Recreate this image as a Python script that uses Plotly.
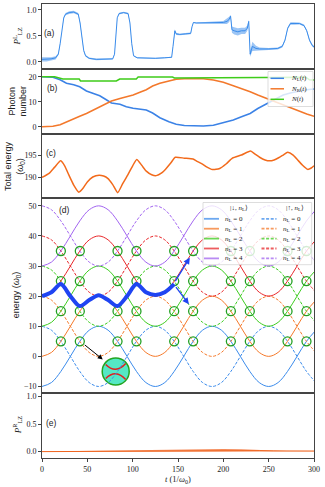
import plotly.graph_objects as go
from plotly.subplots import make_subplots

# ---------------- data ----------------
# (a) left Landau-Zener probability
t_a = [0, 5, 10, 15, 18, 20, 22, 24, 26, 30, 35, 40, 42, 44, 46, 48, 52, 60, 70, 78,
       80, 81.5, 83, 85, 90, 95, 97, 99, 101, 105, 115, 125, 135, 143, 144.5, 145.5, 146.5, 148, 152, 158,
       164, 165.5, 167, 170, 180, 190, 200, 204, 206.5, 208, 209.5, 212, 216, 220, 224, 226.5, 228, 229.6, 232, 236,
       240, 250, 260, 265, 268, 271, 274, 278, 284, 289, 292, 295, 298, 300]
P_a = [0.05, 0.05, 0.06, 0.08, 0.15, 0.35, 0.65, 0.85, 0.92, 0.95, 0.96, 0.92, 0.75, 0.45, 0.22, 0.12, 0.07, 0.05, 0.05, 0.06,
       0.15, 0.5, 0.85, 0.93, 0.95, 0.93, 0.75, 0.35, 0.12, 0.08, 0.07, 0.07, 0.08, 0.09, 0.3, 0.55, 0.6, 0.54, 0.53, 0.54,
       0.55, 0.68, 0.76, 0.75, 0.75, 0.76, 0.76, 0.78, 0.82, 0.88, 0.62, 0.6, 0.58, 0.6, 0.6, 0.65, 0.78, 0.15, 0.3, 0.26,
       0.25, 0.25, 0.26, 0.3, 0.42, 0.65, 0.74, 0.74, 0.74, 0.7, 0.6, 0.42, 0.32, 0.29]
P_a_spread = [0.04, 0.04, 0.03, 0.03, 0.02, 0.02, 0.02, 0.02, 0.02, 0.025, 0.025, 0.02, 0.02, 0.02, 0.02, 0.02, 0.015, 0.015, 0.01, 0.01,
              0.01, 0.01, 0.01, 0.015, 0.015, 0.015, 0.01, 0.01, 0.01, 0.01, 0.01, 0.01, 0.01, 0.01, 0.01, 0.03, 0.03, 0.02, 0.015, 0.015,
              0.015, 0.01, 0.01, 0.01, 0.015, 0.02, 0.03, 0.05, 0.05, 0.03, 0.06, 0.07, 0.07, 0.06, 0.06, 0.05, 0.03, 0.05, 0.09, 0.05,
              0.03, 0.02, 0.02, 0.02, 0.02, 0.02, 0.025, 0.025, 0.02, 0.02, 0.02, 0.02, 0.02, 0.02]

# (b) photon numbers
t_b = [0, 12, 20, 27, 35, 41.6, 49, 56, 63.7, 70, 76.6, 86, 93, 100.5, 108, 115, 122, 130, 140, 148,
       157, 166.6, 178, 189, 200, 211, 220, 229.6, 238, 248, 257, 266, 275, 284.4, 292, 300]
N_L = [20, 19.8, 18.8, 17.4, 16.8, 16, 14.3, 13.4, 12.4, 11, 9.5, 9, 8, 7.4, 7, 6.7, 5.5, 3.6, 2, 1,
       0.5, 0.3, 0.3, 0.6, 1.5, 2.7, 4, 5.3, 7.3, 9.3, 11, 12.7, 13.6, 14.4, 14.8, 15.1]
N_R = [0, 0.2, 0.8, 2, 3.3, 4.2, 5.3, 6.6, 8, 9.2, 10.3, 11.3, 12, 12.7, 13.8, 14.8, 16.3, 17.4, 18.3, 19,
       19.2, 19.3, 19.2, 18.7, 17.8, 16.4, 15.3, 14, 12.7, 11.3, 10, 8.7, 7.3, 6, 5.1, 4.2]
t_N = [0, 14, 23, 41, 42.5, 82, 85.7, 104, 106, 144, 146, 210, 212, 291, 295, 300]
N_tot = [20, 20, 19.1, 19.1, 18.3, 18.3, 19.1, 19.1, 19.9, 19.9, 19.5, 19.5, 19.8, 19.8, 18.8, 18.7]

# (c) total energy
t_c = [0, 7.8, 14, 20.5, 25, 29.7, 35, 40.7, 45, 50, 56, 63, 68, 72.5, 78, 83.5, 89, 94.5, 100, 104.5,
       110, 115, 121, 126, 132, 137, 142, 147, 157, 166.6, 171, 176, 182, 187, 192, 196, 203, 210, 220, 230,
       235, 240, 246, 251, 256, 261, 266, 271, 277, 282, 287, 293, 297, 300]
E_tot = [190.0, 190.9, 192.3, 193.7, 192.6, 190.5, 188.3, 186.7, 187.5, 189.0, 190.1, 190.5, 190.3, 189.8, 188.4, 186.6, 188.6, 190.5, 192.6, 194.0,
         192.7, 191.4, 190.6, 190.4, 191.0, 192.0, 193.2, 194.5, 194.3, 194.1, 193.6, 193.1, 192.3, 191.8, 191.8, 192.0, 193.0, 194.3, 195.0, 195.9,
         195.2, 194.5, 193.9, 193.7, 193.9, 194.4, 195.0, 195.6, 195.0, 193.9, 192.8, 191.8, 192.1, 192.6]

# (d) diabatic energy levels: level offset per n_L plus a swing
t_d = [0, 10.4, 20.8, 31.3, 41.7, 52.1, 62.5, 72.9, 83.3, 93.8, 104.2, 114.6, 125, 135.4, 145.8,
       156.3, 166.7, 177.1, 187.5, 197.9, 208.3, 218.8, 229.2, 239.6, 250, 260.4, 270.8, 281.3, 291.7, 302.1]
swing = [10, 8.7, 5, 0, -5, -8.7, -10, -8.7, -5, 0, 5, 8.7, 10, 8.7, 5,
         0, -5, -8.7, -10, -8.7, -5, 0, 5, 8.7, 10, 8.7, 5, 0, -5, -8.7]
n_levels = [0, 1, 2, 3, 4]
level_offset = [0, 10, 20, 30, 40]
level_colors = ["#3b8beb", "#f5792a", "#3ccc1e", "#e8272a", "#a265f0"]
t_path = [0, 10.4, 20.8, 31.3, 41.7, 52.1, 62.5, 72.9, 83.3, 93.8, 104.2, 114.6, 125, 135.4, 145.8]
E_path = [20, 21.3, 24, 20, 16.7, 18.7, 20.3, 18.7, 16.7, 20, 24, 21.3, 20.4, 21.3, 24]
cross_t = [20.8, 41.7, 83.3, 104.2, 145.8, 166.7, 208.3, 229.2, 270.8, 291.7]
cross_E = [5, 15, 25, 35]

# (e) right Landau-Zener probability
t_e = [0, 20, 50, 80, 100, 130, 150, 175, 200, 220, 240, 255, 262, 270, 300]
P_e = [0.001, 0.003, 0.008, 0.012, 0.015, 0.02, 0.022, 0.025, 0.025, 0.022, 0.018, 0.014, 0.012, 0.012, 0.012]
P_e_spread = [0.001, 0.003, 0.006, 0.01, 0.013, 0.018, 0.02, 0.022, 0.022, 0.02, 0.015, 0.01, 0.004, 0.002, 0.002]

x_ticks = [0, 50, 100, 150, 200, 250, 300]

# ---------------- layout helpers ----------------
W, H = 325, 487
ML, MR, MT, MB = 42, 11, 4, 29
PW = W - ML - MR
PH = H - MT - MB
panels = [(4, 69), (69, 134), (134, 198), (198, 392.5), (392.5, 458)]


def dom(top, bot):
    return [(H - MB - bot) / PH, (H - MB - top) / PH]


def px(x):
    return (x - ML) / PW


def py(y):
    return (H - MB - y) / PH


SERIF = "Liberation Serif"
SANS = "Liberation Sans"
FRAME = "#444444"

fig = make_subplots(rows=5, cols=1, shared_xaxes=True, vertical_spacing=0)

# ---- (a)
blue_a = "#3a8ceb"
fig.add_trace(go.Scatter(x=t_a, y=[p - s for p, s in zip(P_a, P_a_spread)], mode="lines",
                         line=dict(width=0, color=blue_a), hoverinfo="skip"), row=1, col=1)
fig.add_trace(go.Scatter(x=t_a, y=[p + s for p, s in zip(P_a, P_a_spread)], mode="lines",
                         line=dict(width=0, color=blue_a), fill="tonexty",
                         fillcolor="rgba(58,140,235,0.5)", hoverinfo="skip"), row=1, col=1)
fig.add_trace(go.Scatter(x=t_a, y=P_a, mode="lines", line=dict(width=1, color=blue_a)), row=1, col=1)

# ---- (b)
fig.add_trace(go.Scatter(x=t_b, y=N_L, mode="lines", line=dict(width=1.5, color="#3b82e6")), row=2, col=1)
fig.add_trace(go.Scatter(x=t_b, y=N_R, mode="lines", line=dict(width=1.5, color="#f3782b")), row=2, col=1)
fig.add_trace(go.Scatter(x=t_N, y=N_tot, mode="lines", line=dict(width=1.5, color="#3fcc1a")), row=2, col=1)

# ---- (c)
fig.add_trace(go.Scatter(x=t_c, y=E_tot, mode="lines",
                         line=dict(width=1.5, color="#f26a1b", shape="spline", smoothing=0.5)), row=3, col=1)

# ---- (d)
for n, off, c in zip(n_levels, level_offset, level_colors):
    fig.add_trace(go.Scatter(x=t_d, y=[off - s for s in swing], mode="lines", name=f"down {n}",
                             line=dict(width=1, color=c, shape="spline", smoothing=1)), row=4, col=1)
    fig.add_trace(go.Scatter(x=t_d, y=[off + s for s in swing], mode="lines", name=f"up {n}",
                             line=dict(width=1, color=c, dash="3px,1.6px", shape="spline", smoothing=1)), row=4, col=1)
cx = [t for e in cross_E for t in cross_t]
cy = [e for e in cross_E for t in cross_t]
fig.add_trace(go.Scatter(x=cx, y=cy, mode="markers",
                         marker=dict(symbol="circle-open", size=9, color="#22a022", line=dict(width=1.3))),
              row=4, col=1)
fig.add_trace(go.Scatter(x=t_path, y=E_path, mode="lines",
                         line=dict(width=4, color="#1f44f2", shape="spline", smoothing=0.8)), row=4, col=1)

# ---- (e)
orange_e = "#f0641e"
fig.add_trace(go.Scatter(x=t_e, y=[p - s for p, s in zip(P_e, P_e_spread)], mode="lines",
                         line=dict(width=0, color=orange_e), hoverinfo="skip"), row=5, col=1)
fig.add_trace(go.Scatter(x=t_e, y=[p + s for p, s in zip(P_e, P_e_spread)], mode="lines",
                         line=dict(width=0, color=orange_e), fill="tonexty",
                         fillcolor="rgba(240,90,20,0.7)", hoverinfo="skip"), row=5, col=1)
fig.add_trace(go.Scatter(x=t_e, y=P_e, mode="lines", line=dict(width=1, color=orange_e)), row=5, col=1)

# ---------------- axes ----------------
yranges = [[-0.135, 1.115], [-2.9, 23.1], [185.4, 199.7], [-12, 52.6], [-0.115, 1.076]]
yticks = [[0, 0.5, 1.0], [0, 10, 20], [190, 195], [-10, 0, 10, 20, 30, 40, 50], [0, 0.5, 1.0]]
yfmt = [".1f", "d", "d", "d", ".1f"]
for i in range(5):
    sfx = "" if i == 0 else str(i + 1)
    fig.layout["yaxis" + sfx].update(
        domain=dom(*panels[i]), range=yranges[i], tickvals=yticks[i], tickformat=yfmt[i],
        ticks="outside", ticklen=3, tickwidth=1, tickcolor=FRAME,
        showline=True, mirror=True, linecolor=FRAME, linewidth=1,
        showgrid=False, zeroline=False,
        tickfont=dict(family=SERIF, size=8, color="#222"))
    fig.layout["xaxis" + sfx].update(
        range=[0, 300], showline=True, mirror=True, linecolor=FRAME, linewidth=1,
        showgrid=False, zeroline=False,
        ticks="outside" if i == 4 else "", ticklen=3, tickcolor=FRAME,
        tickvals=x_ticks, showticklabels=(i == 4),
        tickfont=dict(family=SERIF, size=8, color="#222"))

fig.update_layout(width=W, height=H, margin=dict(l=ML, r=MR, t=MT, b=MB),
                  paper_bgcolor="white", plot_bgcolor="rgba(0,0,0,0)", showlegend=False)

ann = []
shapes = []

# axis titles
ytitles = [
    ("<i>P</i><sup>L</sup><sub>LZ</sub>", SERIF, 9, -25),
    ("Photon<br>number", SANS, 9, -25),
    ("Total energy<br>(<i>ω</i><sub>0</sub>)", SANS, 9, -28),
    ("energy (<i>ω</i><sub>0</sub>)", SANS, 9, -26),
    ("<i>P</i><sup>R</sup><sub>LZ</sub>", SERIF, 9, -25),
]
for i, (txt, fam, sz, shift) in enumerate(ytitles):
    sfx = "" if i == 0 else str(i + 1)
    ann.append(dict(text=txt, xref="x" + sfx + " domain", yref="y" + sfx + " domain", x=0, y=0.5,
                    xshift=shift, textangle=-90, showarrow=False, xanchor="center", yanchor="middle",
                    font=dict(family=fam, size=sz, color="#222")))
ann.append(dict(text="<i>t</i> (1/<i>ω</i><sub>0</sub>)", xref="paper", yref="paper",
                x=px(178), y=py(480), xanchor="center", yanchor="middle", showarrow=False,
                font=dict(family=SERIF, size=8.5, color="#222")))

# panel labels
labels = [("(a)", 8.5, 0.55), ("(b)", 11.8, 15.6), ("(c)", 10.4, 195.4), ("(d)", 25, 48.6), ("(e)", 10.4, 0.53)]
for i, (txt, x, y) in enumerate(labels):
    sfx = "" if i == 0 else str(i + 1)
    ann.append(dict(text=txt, xref="x" + sfx, yref="y" + sfx, x=x, y=y, showarrow=False,
                    xanchor="center", yanchor="middle",
                    font=dict(family=SANS, size=8.5, color="#222")))

# arrows in (d)
ann.append(dict(x=67, y=-1, ax=45.5, ay=4.2, xref="x4", yref="y4", axref="x4", ayref="y4", text="",
                showarrow=True, arrowhead=2, arrowsize=1, arrowwidth=1, arrowcolor="black"))
ann.append(dict(x=163, y=32.8, ax=146, ay=24.5, xref="x4", yref="y4", axref="x4", ayref="y4", text="",
                showarrow=True, arrowhead=2, arrowsize=1, arrowwidth=1.3, arrowcolor="#1f44f2"))
ann.append(dict(x=162, y=17.3, ax=146.5, ay=23.5, xref="x4", yref="y4", axref="x4", ayref="y4", text="",
                showarrow=True, arrowhead=2, arrowsize=1, arrowwidth=1.3, arrowcolor="#1f44f2"))

# inset (zoomed avoided crossing)
shapes.append(dict(type="circle", xref="x4", yref="y4", xsizemode="pixel", ysizemode="pixel",
                   xanchor=81.3, yanchor=-5, x0=-13.5, x1=13.5, y0=-13.5, y1=13.5,
                   fillcolor="#55e8c5", line=dict(color="#23a523", width=1.5), layer="below"))
shapes.append(dict(type="path", xref="x4", yref="y4", xsizemode="pixel", ysizemode="pixel",
                   xanchor=81.3, yanchor=-5, path="M -10,7 Q 0,-3 10,8",
                   line=dict(color="#e02020", width=1.5), layer="below"))
shapes.append(dict(type="path", xref="x4", yref="y4", xsizemode="pixel", ysizemode="pixel",
                   xanchor=81.3, yanchor=-5, path="M -10,-7 Q 0,3 10,-8",
                   line=dict(color="#e02020", width=1.5), layer="below"))

# legend of (b)
shapes.append(dict(type="rect", xref="paper", yref="paper", x0=px(268), x1=px(313), y0=py(106.5), y1=py(71.5),
                   fillcolor="rgba(255,255,255,0.8)", line=dict(color="#d4d4d4", width=0.8), layer="above"))
b_items = [("<i>N</i><sub>L</sub>(<i>t</i>)", "#3b82e6"), ("<i>N</i><sub>R</sub>(<i>t</i>)", "#f3782b"),
           ("<i>N</i>(<i>t</i>)", "#3fcc1a")]
for k, (txt, c) in enumerate(b_items):
    yy = 78.3 + 10.5 * k
    shapes.append(dict(type="line", xref="paper", yref="paper", x0=px(270.5), x1=px(284), y0=py(yy), y1=py(yy),
                       line=dict(color=c, width=1.5), layer="above"))
    ann.append(dict(text=txt, xref="paper", yref="paper", x=px(288.5), y=py(yy), xanchor="left",
                    yanchor="middle", showarrow=False, font=dict(family=SERIF, size=7, color="#222")))

# legend of (d)
shapes.append(dict(type="rect", xref="paper", yref="paper", x0=px(203), x1=px(311.7), y0=py(264.7), y1=py(202.5),
                   fillcolor="rgba(255,255,255,0.8)", line=dict(color="#d4d4d4", width=0.8), layer="above"))
ann.append(dict(text="|↓, <i>n</i><sub>L</sub>⟩", xref="paper", yref="paper", x=px(239), y=py(208.3),
                xanchor="center", yanchor="middle",
                showarrow=False, font=dict(family=SERIF, size=7, color="#222")))
ann.append(dict(text="|↑, <i>n</i><sub>L</sub>⟩", xref="paper", yref="paper", x=px(295), y=py(208.3),
                xanchor="center", yanchor="middle",
                showarrow=False, font=dict(family=SERIF, size=7, color="#222")))
for k, (n, c) in enumerate(zip(n_levels, level_colors)):
    yy = 218.8 + 9.9 * k
    for (xa, xb, xt, dash) in [(204, 219, 222.5, "solid"), (261.5, 276.5, 280.5, "3px,1.6px")]:
        shapes.append(dict(type="line", xref="paper", yref="paper", x0=px(xa), x1=px(xb), y0=py(yy), y1=py(yy),
                           line=dict(color=c, width=1.8, dash=dash), opacity=0.75, layer="above"))
        ann.append(dict(text=f"<i>n</i><sub>L</sub> = {n}", xref="paper", yref="paper", x=px(xt), y=py(yy),
                        xanchor="left", yanchor="middle", showarrow=False,
                        font=dict(family=SERIF, size=7, color="#222")))

fig.update_layout(annotations=ann, shapes=shapes)
fig.write_html("out.html", config={"displayModeBar": False},
               post_script="document.body.style.margin='0px';document.body.style.padding='0px';")
